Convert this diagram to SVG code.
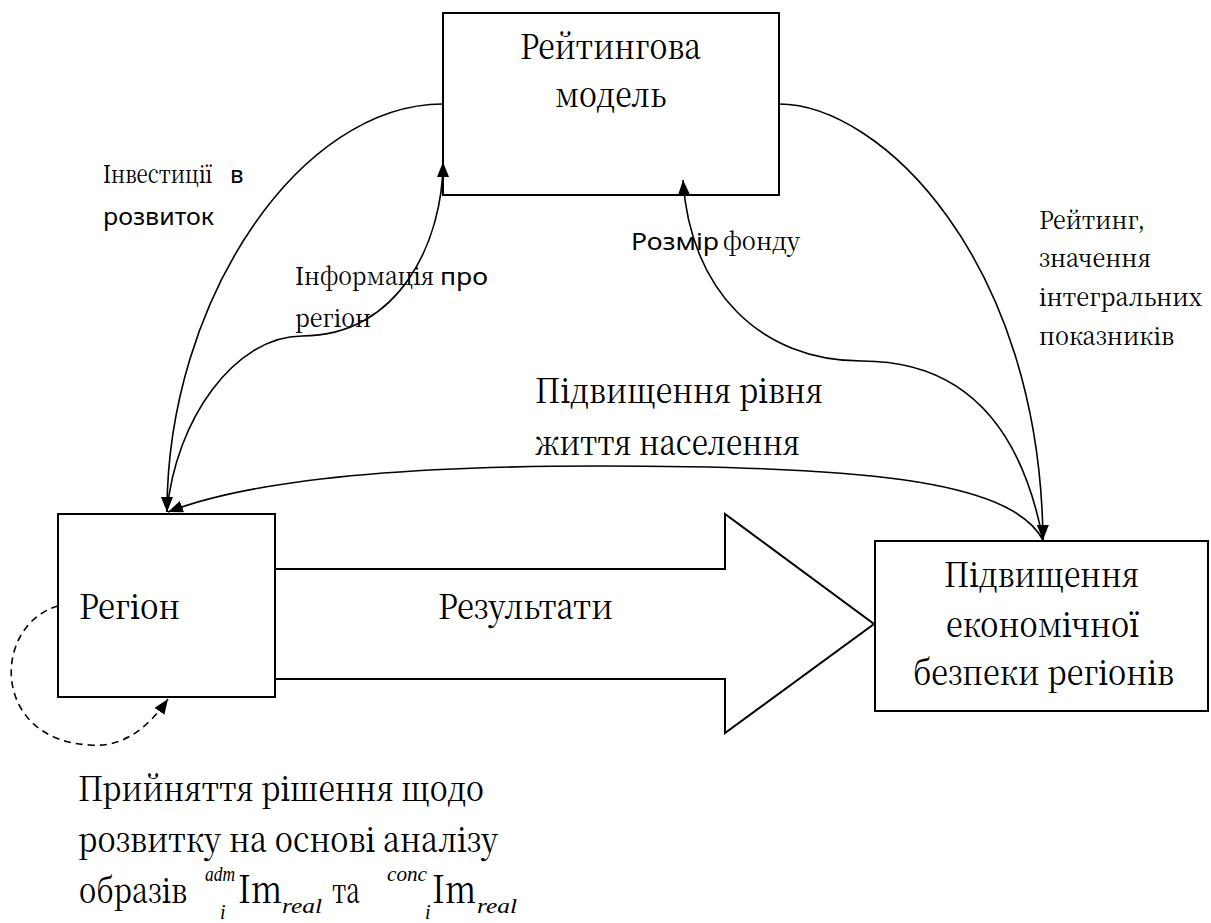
<svg xmlns="http://www.w3.org/2000/svg" width="1211" height="923" viewBox="0 0 1211 923">
<style>
.box{fill:#fff;stroke:#000;stroke-width:2}
.ln{fill:none;stroke:#000;stroke-width:1.6}
.dash{fill:none;stroke:#000;stroke-width:1.6;stroke-dasharray:7,5}
</style>
<defs>
<marker id="ah" markerWidth="16" markerHeight="12" refX="15" refY="6" orient="auto" markerUnits="userSpaceOnUse">
<path d="M0,0 L15,6 L0,12 z" fill="#000"/>
</marker>
</defs>
<rect width="1211" height="923" fill="#fff"/>
<g id="rating-model">
<rect class="box" x="443" y="13" width="336" height="182"/>
<g font-family="'Noto Serif CJK SC', 'DejaVu Serif', serif" font-size="34" fill="#000">
<text x="520" y="59" textLength="181" lengthAdjust="spacingAndGlyphs">Рейтингова</text>
<text x="555" y="107" textLength="111" lengthAdjust="spacingAndGlyphs">модель</text>
</g>
</g>
<g id="region">
<rect class="box" x="58" y="514" width="217" height="183"/>
<text font-family="'Noto Serif CJK SC', 'DejaVu Serif', serif" font-size="34" fill="#000" x="79" y="619" textLength="101" lengthAdjust="spacingAndGlyphs">Регіон</text>
</g>
<g id="results-arrow">
<path class="ln" style="stroke-width:2" d="M275,569 H725 V514 L874,624 L725,733 V679 H275"/>
<text font-family="'Noto Serif CJK SC', 'DejaVu Serif', serif" font-size="34" fill="#000" x="438" y="619" textLength="175" lengthAdjust="spacingAndGlyphs">Результати</text>
</g>
<g id="security">
<rect class="box" x="875" y="541" width="333" height="170"/>
<g font-family="'Noto Serif CJK SC', 'DejaVu Serif', serif" font-size="34" fill="#000">
<text x="944" y="587" textLength="195" lengthAdjust="spacingAndGlyphs">Підвищення</text>
<text x="946" y="637" textLength="193" lengthAdjust="spacingAndGlyphs">економічної</text>
<text x="913" y="685" textLength="261" lengthAdjust="spacingAndGlyphs">безпеки регіонів</text>
</g>
</g>
<g id="connectors">
<path class="ln" d="M779,104 C880,104 1040,260 1043,540" marker-end="url(#ah)"/>
<path class="ln" d="M1043,540 C1020,420 960,361 862,361 C760,361 690,290 683,180" marker-end="url(#ah)"/>
<path class="ln" d="M1043,540 C1010,478 850,466 600,466 C400,466 250,480 168,512" marker-end="url(#ah)"/>
<path class="ln" d="M443,104 C300,104 167,300 167,512" marker-end="url(#ah)"/>
<path class="ln" d="M167,512 C175,420 235,336 302,336 C400,336 443,240 443,162" marker-end="url(#ah)"/>
<path class="dash" d="M58,606 C-8,625 -10,740 90,745 C125,748 150,725 168,699" marker-end="url(#ah)"/>
</g>
<g id="labels" fill="#000" font-family="'Noto Serif CJK SC', 'DejaVu Serif', serif" font-size="25">
<text x="103" y="183"><tspan textLength="109" lengthAdjust="spacingAndGlyphs">Інвестиції</tspan><tspan x="230" font-family="'Noto Sans', 'Open Sans', sans-serif" font-size="24">в</tspan></text>
<text x="103" y="225" font-family="'Noto Sans', 'Open Sans', sans-serif" font-size="24" textLength="111" lengthAdjust="spacingAndGlyphs">розвиток</text>
<text x="295" y="285"><tspan textLength="139" lengthAdjust="spacingAndGlyphs">Інформація</tspan><tspan x="440" font-family="'Noto Sans', 'Open Sans', sans-serif" font-size="24" textLength="48" lengthAdjust="spacingAndGlyphs">про</tspan></text>
<text x="295" y="327" textLength="76" lengthAdjust="spacingAndGlyphs">регіон</text>
<text x="631" y="250"><tspan font-family="'Noto Sans', 'Open Sans', sans-serif" font-size="24" textLength="88" lengthAdjust="spacingAndGlyphs">Розмір</tspan><tspan x="723" textLength="77" lengthAdjust="spacingAndGlyphs">фонду</tspan></text>
<text x="1039" y="229" textLength="106" lengthAdjust="spacingAndGlyphs">Рейтинг,</text>
<text x="1039" y="267" textLength="112" lengthAdjust="spacingAndGlyphs">значення</text>
<text x="1039" y="306" textLength="163" lengthAdjust="spacingAndGlyphs">інтегральних</text>
<text x="1039" y="345" textLength="135" lengthAdjust="spacingAndGlyphs">показників</text>
<text x="535" y="403" font-size="34" textLength="288" lengthAdjust="spacingAndGlyphs">Підвищення рівня</text>
<text x="535" y="455" font-size="34" textLength="265" lengthAdjust="spacingAndGlyphs">життя населення</text>
</g>
<g id="decision" fill="#000">
<g font-family="'Noto Serif CJK SC', 'DejaVu Serif', serif" font-size="34">
<text x="78" y="801" textLength="406" lengthAdjust="spacingAndGlyphs">Прийняття рішення щодо</text>
<text x="78" y="852" textLength="420" lengthAdjust="spacingAndGlyphs">розвитку на основі аналізу</text>
<text x="79" y="903" textLength="108" lengthAdjust="spacingAndGlyphs">образів</text>
<text x="332" y="903" textLength="28" lengthAdjust="spacingAndGlyphs">та</text>
<text x="238" y="903" font-size="38" textLength="44" lengthAdjust="spacingAndGlyphs">Im</text>
<text x="432" y="903" font-size="38" textLength="44" lengthAdjust="spacingAndGlyphs">Im</text>
</g>
<g font-family="'Liberation Serif', serif" font-style="italic" font-size="20">
<text x="205" y="881" textLength="30" lengthAdjust="spacingAndGlyphs">adm</text>
<text x="220" y="919">i</text>
<text x="282" y="913" textLength="40" lengthAdjust="spacingAndGlyphs">real</text>
<text x="387" y="881" textLength="40" lengthAdjust="spacingAndGlyphs">conc</text>
<text x="425" y="919">i</text>
<text x="477" y="913" textLength="40" lengthAdjust="spacingAndGlyphs">real</text>
</g>
</g>
</svg>
